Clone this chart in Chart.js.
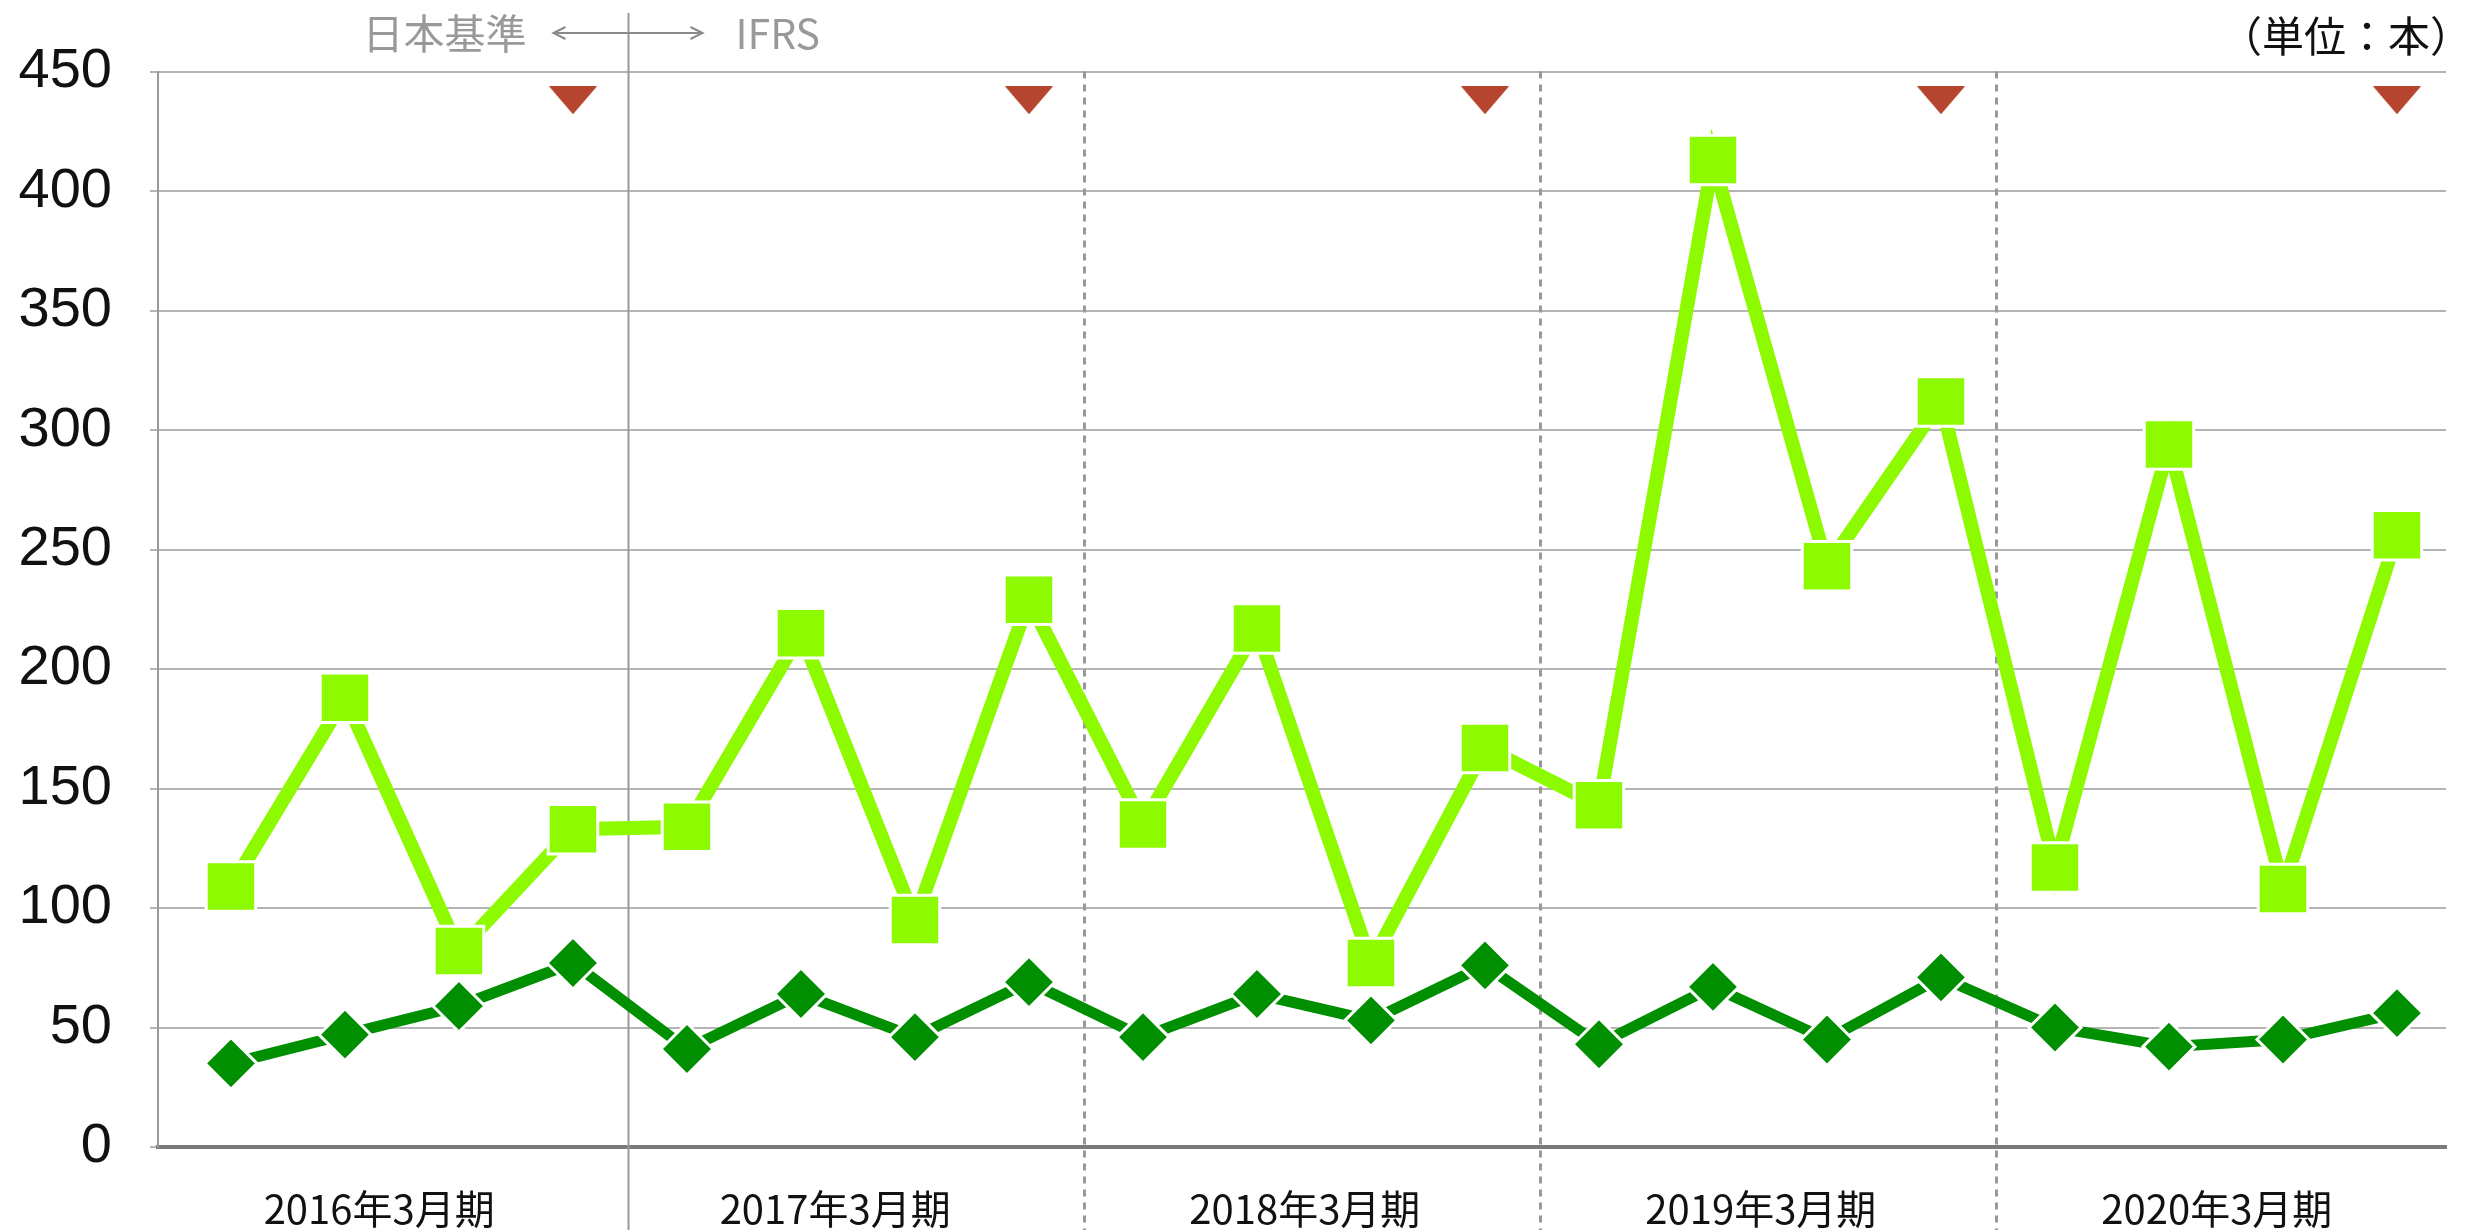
<!DOCTYPE html>
<html lang="ja">
<head>
<meta charset="utf-8">
<style>
html, body { margin: 0; padding: 0; background: #fff; }
#wrap { position: relative; width: 2484px; height: 1230px; }
</style>
<script src="https://cdn.jsdelivr.net/npm/chart.js@4.4.1/dist/chart.umd.min.js"></script>
</head>
<body>
<div id="wrap"><canvas id="chart"></canvas></div>
<script>
// 決算期（1期 = 4四半期）
const fiscalYears = ['2016年3月期', '2017年3月期', '2018年3月期', '2019年3月期', '2020年3月期'];
const quartersPerYear = 4;

// 四半期ごとの本数
const lightSeries = [109, 188, 82, 133, 134, 215, 95, 229, 135, 217, 77, 167, 143, 413, 243, 312, 117, 294, 108, 256];
const darkSeries = [35, 47, 59, 77, 41, 64, 46, 69, 46, 64, 53, 76, 43, 67, 45, 71, 50, 42, 45, 56];

// 期末四半期の▼マーカー
const yearEndFlags = [0, 0, 0, 1, 0, 0, 0, 1, 0, 0, 0, 1, 0, 0, 0, 1, 0, 0, 0, 1];
const flagLevel = 438;

const yMax = 450;
const yStep = 50;

const LIME = '#8EFA00';
const CLOVER = '#008F00';
const RED = '#B5452F';
const GRAY = '#999999';
const CJK = '"Noto Sans CJK JP", "Noto Sans", sans-serif';

// 下向きの平たい三角形
function makeTriangle(w, h, color) {
    const c = document.createElement('canvas');
    c.width = w;
    c.height = h;
    const g = c.getContext('2d');
    g.fillStyle = color;
    g.beginPath();
    g.moveTo(0, 0);
    g.lineTo(w, 0);
    g.lineTo(w / 2, h);
    g.closePath();
    g.fill();
    return c;
}
const triangle = makeTriangle(48, 28, RED);

// 期の区切り線と上部の注記
const overlay = {
    id: 'overlay',
    beforeDatasetsDraw(chart) {
        const { ctx, chartArea, scales: { x } } = chart;
        ctx.save();
        ctx.strokeStyle = GRAY;
        let ifrsX = 0;
        for (let g = 1; g < fiscalYears.length; g++) {
            const px = Math.round(x.getPixelForValue(g * quartersPerYear - 0.52)) + 0.5;
            ctx.beginPath();
            if (g === 1) {
                ifrsX = px;
                ctx.setLineDash([]);
                ctx.lineWidth = 2;
                ctx.moveTo(px, 13);
            } else {
                ctx.setLineDash([7, 6]);
                ctx.lineWidth = 3;
                ctx.moveTo(px, chartArea.top);
            }
            ctx.lineTo(px, chart.height);
            ctx.stroke();
        }
        ctx.setLineDash([]);

        // 日本基準 ←→ IFRS
        const ay = 33;
        ctx.fillStyle = GRAY;
        ctx.font = '41px ' + CJK;
        ctx.textBaseline = 'middle';
        ctx.textAlign = 'right';
        ctx.fillText('日本基準', ifrsX - 102, ay);
        ctx.textAlign = 'left';
        ctx.fillText('IFRS', ifrsX + 107, ay);
        ctx.strokeStyle = '#8a8a8a';
        ctx.lineWidth = 2;
        ctx.beginPath();
        ctx.moveTo(ifrsX - 75, ay);
        ctx.lineTo(ifrsX + 74, ay);
        ctx.moveTo(ifrsX - 63, ay - 6);
        ctx.lineTo(ifrsX - 75, ay);
        ctx.lineTo(ifrsX - 63, ay + 6);
        ctx.moveTo(ifrsX + 62, ay - 6);
        ctx.lineTo(ifrsX + 74, ay);
        ctx.lineTo(ifrsX + 62, ay + 6);
        ctx.stroke();

        // 単位
        ctx.fillStyle = '#111';
        ctx.font = '42px ' + CJK;
        ctx.textAlign = 'right';
        ctx.fillText('（単位：本）', chartArea.right + 26, 36);
        ctx.restore();
    }
};

const ctx = document.getElementById('chart').getContext('2d');

const chart = new Chart(ctx, {
    type: 'line',
    data: {
        datasets: [{
            data: yearEndFlags.map((f, i) => ({ x: i, y: f ? flagLevel : null })),
            showLine: false,
            pointStyle: triangle,
            pointRadius: 20,
            borderColor: RED,
            backgroundColor: RED
        }, {
            data: darkSeries.map((v, i) => ({ x: i, y: v })),
            borderColor: CLOVER,
            backgroundColor: CLOVER,
            borderWidth: 11,
            pointStyle: 'rectRot',
            pointRadius: 26,
            pointBorderColor: '#fff',
            pointBorderWidth: 3,
            pointBackgroundColor: CLOVER
        }, {
            data: lightSeries.map((v, i) => ({ x: i, y: v })),
            borderColor: LIME,
            backgroundColor: LIME,
            borderWidth: 14,
            pointStyle: 'rect',
            pointRadius: 35,
            pointBorderColor: '#fff',
            pointBorderWidth: 3,
            pointBackgroundColor: LIME
        }]
    },
    options: {
        responsive: true,
        maintainAspectRatio: false,
        devicePixelRatio: 1,
        animation: false,
        layout: { padding: { top: 71, right: 36, left: 0, bottom: 0 } },
        scales: {
            x: {
                type: 'linear',
                min: -0.64,
                max: 19.43,
                afterBuildTicks: (scale) => {
                    scale.ticks = fiscalYears.map((y, g) => ({ value: g * quartersPerYear + (g < 2 ? 1.3 : 1.42) }));
                },
                afterFit: (scale) => { scale.height = 83; },
                ticks: {
                    autoSkip: false,
                    maxRotation: 0,
                    padding: 38,
                    color: '#111',
                    font: { size: 40, family: CJK },
                    callback: (v, i) => fiscalYears[i]
                },
                grid: { drawOnChartArea: false, drawTicks: false, color: 'rgba(0,0,0,0)' },
                border: { color: '#7a7a7a', width: 4 }
            },
            y: {
                min: 0,
                max: yMax,
                afterFit: (scale) => { scale.width = 158; },
                ticks: {
                    stepSize: yStep,
                    padding: 38,
                    color: '#111',
                    font: { size: 56, family: '"Liberation Sans", Arial, sans-serif' }
                },
                grid: { color: '#b4b4b4', lineWidth: 2, tickLength: 8 },
                border: { color: GRAY, width: 2 }
            }
        },
        plugins: {
            legend: { display: false },
            tooltip: { enabled: false }
        }
    },
    plugins: [overlay]
});
</script>
</body>
</html>
